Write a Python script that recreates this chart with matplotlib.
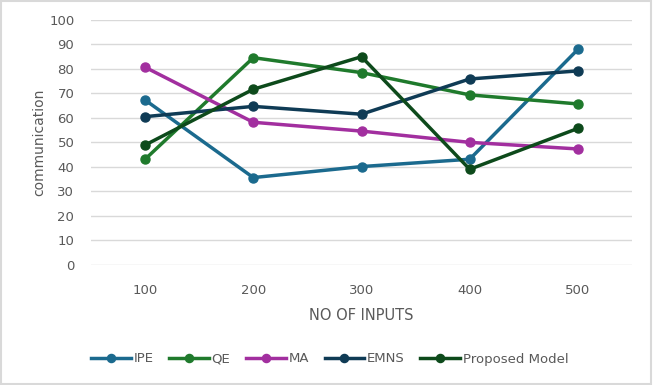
import matplotlib.pyplot as plt
import numpy as np

inputs = ['100', '200', '300', '400', '500']
ipe = [67.3, 35.6, 40.1, 43.1, 88.0]
qe = [43.1, 84.6, 78.5, 69.4, 65.7]
ma = [80.7, 58.2, 54.6, 50.0, 47.3]
emns = [60.5, 64.7, 61.5, 75.9, 79.2]
proposed = [48.9, 71.7, 85.0, 39.0, 55.7]

series = [
    ('IPE', ipe, '#1b6a8e'),
    ('QE', qe, '#1f7a2c'),
    ('MA', ma, '#a22f9f'),
    ('EMNS', emns, '#0f3b55'),
    ('Proposed Model', proposed, '#0d4a1b'),
]

fig = plt.figure(figsize=(6.53, 3.85), dpi=100)
ax = fig.add_axes([91/653, 1-264.7/385, (632-91)/653, (264.7-20)/385])

x = np.arange(len(inputs))
for name, vals, col in series:
    ax.plot(x, vals, color=col, lw=2.5, marker='o', ms=6.5, label=name)

ax.set_xlim(-0.5, len(inputs)-0.5)
ax.set_ylim(0, 100)
ax.set_yticks(range(0, 101, 10))
ax.set_xticks(x)
ax.set_xticklabels(inputs)
ax.yaxis.grid(True, color='#d9d9d9', lw=1)
ax.set_axisbelow(True)
for s in ax.spines.values():
    s.set_visible(False)
ax.tick_params(length=0, colors='#595959', labelsize=9.5)
ax.tick_params(axis='x', pad=14)
ax.tick_params(axis='y', pad=12)
ax.set_xlabel('NO OF INPUTS', color='#595959', fontsize=10.5, labelpad=8)
ax.set_ylabel('communication', color='#595959', fontsize=10, labelpad=2)

leg = fig.legend(loc='center', bbox_to_anchor=(0.505, 1-359/385), ncol=5, frameon=False,
                 fontsize=9.5, handlelength=3.0, handletextpad=0.2, columnspacing=1.2,
                 markerscale=0.9)
for t in leg.get_texts():
    t.set_color('#595959')

fig.patches.append(plt.Rectangle((0.002, 0.003), 0.995, 0.994, transform=fig.transFigure,
                                 fill=False, edgecolor='#d9d9d9', lw=1.5))

fig.savefig('out.png', dpi=100)
